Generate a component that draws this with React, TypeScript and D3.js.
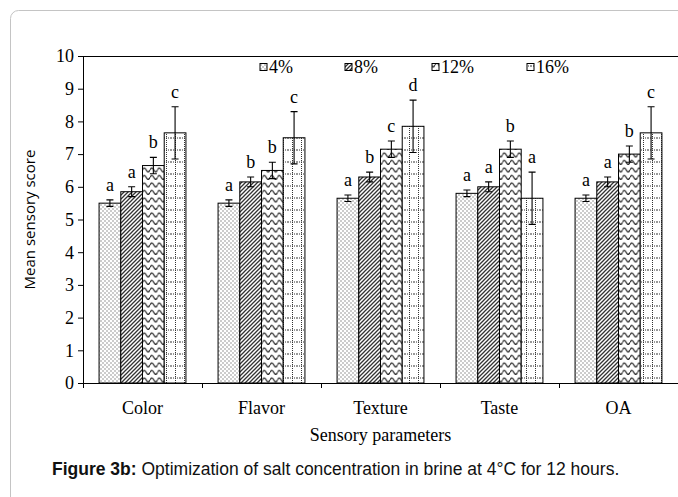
import React from "react";
import * as d3 from "d3";

const categories = ["Color", "Flavor", "Texture", "Taste", "OA"];
const seriesNames = ["4%", "8%", "12%", "16%"];
// mean sensory score per concentration, one value per category
const v4 = [5.5, 5.5, 5.65, 5.8, 5.65];
const v8 = [5.85, 6.15, 6.3, 6.0, 6.15];
const v12 = [6.65, 6.5, 7.15, 7.15, 7.0];
const v16 = [7.65, 7.5, 7.85, 5.65, 7.65];
// standard errors
const e4 = [0.1, 0.1, 0.1, 0.1, 0.1];
const e8 = [0.15, 0.15, 0.15, 0.15, 0.15];
const e12 = [0.25, 0.25, 0.25, 0.25, 0.25];
const e16 = [0.8, 0.8, 0.8, 0.8, 0.8];
// significance letters
const l4 = ["a", "a", "a", "a", "a"];
const l8 = ["a", "b", "b", "a", "a"];
const l12 = ["b", "b", "c", "b", "b"];
const l16 = ["c", "c", "d", "a", "c"];
const yTicks = [0, 1, 2, 3, 4, 5, 6, 7, 8, 9, 10];

const W = 678;
const H = 497;
const m = { left: 83, right: 678, top: 56, bottom: 383 };
const serif = "Liberation Serif, Times New Roman, serif";
const sans = "Liberation Sans, Arial, sans-serif";

const Patterns = () => (
  <defs>
    <pattern id="p0" width="4" height="4" patternUnits="userSpaceOnUse">
      <rect width="4" height="4" fill="#fff" />
      <rect x="0.5" y="0.5" width="1" height="1" fill="#333" />
      <rect x="2.5" y="2.5" width="1" height="1" fill="#333" />
    </pattern>
    <pattern id="p1" width="4" height="4" patternUnits="userSpaceOnUse">
      <rect width="4" height="4" fill="#fff" />
      <path d="M-1,1 l2,-2 M0,4 l4,-4 M3,5 l2,-2" stroke="#333" strokeWidth="1.3" />
    </pattern>
    <pattern id="p2" width="7.5" height="7.5" patternUnits="userSpaceOnUse">
      <rect width="7.5" height="7.5" fill="#fff" />
      <path d="M0,5 Q1.875,1 3.75,5 T7.5,5" fill="none" stroke="#222" strokeWidth="1.2" />
    </pattern>
    <pattern id="p3" width="9" height="12" patternUnits="userSpaceOnUse">
      <rect width="9" height="12" fill="#fff" />
      <path d="M4.5,0 V12 M0,6 H9" stroke="#333" strokeWidth="1" strokeDasharray="1,1" />
    </pattern>
  </defs>
);

export default function App() {
  const values = [v4, v8, v12, v16];
  const errs = [e4, e8, e12, e16];
  const letters = [l4, l8, l12, l16];

  const x = d3.scaleBand().domain(categories).range([m.left, m.right]).paddingInner(0.27).paddingOuter(0.135);
  const xs = d3.scaleBand().domain(seriesNames).range([0, x.bandwidth()]);
  const y = d3.scaleLinear().domain([0, 10]).range([m.bottom, m.top]);
  const edges = d3.range(categories.length + 1).map((i) => m.left + (i * (m.right - m.left)) / categories.length);

  const legendX = [260, 345, 432, 527];

  return (
    <svg width={W} height={H} style={{ position: "absolute", left: 0, top: 0, background: "#fff" }}>
      <Patterns />
      <rect x={10.5} y={10.5} width={700} height={520} rx={8} fill="none" stroke="#c4c4c4" />

      {/* bars */}
      {seriesNames.map((s, si) =>
        categories.map((c, ci) => {
          const bx = x(c)! + xs(s)!;
          const bw = xs.bandwidth();
          const v = values[si][ci];
          const e = errs[si][ci];
          const cx = bx + bw / 2;
          return (
            <g key={s + c}>
              <rect x={bx} y={y(v)} width={bw} height={y(0) - y(v)} fill={`url(#p${si})`} stroke="#000" strokeWidth={1} />
              <path
                d={`M${cx},${y(v + e)} V${y(v - e)} M${cx - 3.5},${y(v + e)} H${cx + 3.5} M${cx - 3.5},${y(v - e)} H${cx + 3.5}`}
                stroke="#000"
                strokeWidth={1.1}
                fill="none"
              />
              <text x={cx} y={y(v + e) - 9} textAnchor="middle" fontFamily={serif} fontSize={18}>
                {letters[si][ci]}
              </text>
            </g>
          );
        })
      )}

      {/* axes */}
      <line x1={m.left} x2={m.right} y1={m.top + 0.5} y2={m.top + 0.5} stroke="#000" />
      <line x1={m.left} x2={m.right} y1={m.bottom + 0.5} y2={m.bottom + 0.5} stroke="#000" />
      <line x1={m.left + 0.5} x2={m.left + 0.5} y1={m.top} y2={m.bottom} stroke="#000" />
      {yTicks.map((t) => (
        <g key={t}>
          <line x1={m.left - 5} x2={m.left} y1={y(t) + 0.5} y2={y(t) + 0.5} stroke="#000" />
          <text x={m.left - 9} y={y(t)} dy="0.35em" textAnchor="end" fontFamily={serif} fontSize={18}>
            {t}
          </text>
        </g>
      ))}
      {edges.map((ex, i) => (
        <line key={i} x1={ex + 0.5} x2={ex + 0.5} y1={m.bottom} y2={m.bottom + 5} stroke="#000" />
      ))}
      {categories.map((c) => (
        <text key={c} x={x(c)! + x.bandwidth() / 2} y={414} textAnchor="middle" fontFamily={serif} fontSize={18}>
          {c}
        </text>
      ))}
      <text x={(m.left + m.right) / 2} y={441} textAnchor="middle" fontFamily={serif} fontSize={18}>
        Sensory parameters
      </text>
      <text
        transform={`translate(35,${(m.top + m.bottom) / 2}) rotate(-90)`}
        textAnchor="middle"
        fontFamily="Open Sans, sans-serif"
        fontSize={15}
      >
        Mean sensory score
      </text>

      {/* legend */}
      {seriesNames.map((s, i) => (
        <g key={s}>
          <rect x={legendX[i]} y={63.5} width={7} height={7} fill={`url(#p${i})`} stroke="#000" />
          <text x={legendX[i] + 9} y={73} fontFamily={serif} fontSize={18}>
            {s}
          </text>
        </g>
      ))}

      {/* caption */}
      <text x={52} y={475} fontFamily={sans} fontSize={17.5} fill="#111">
        <tspan fontWeight="bold">Figure 3b:</tspan> Optimization of salt concentration in brine at 4°C for 12 hours.
      </text>
    </svg>
  );
}
